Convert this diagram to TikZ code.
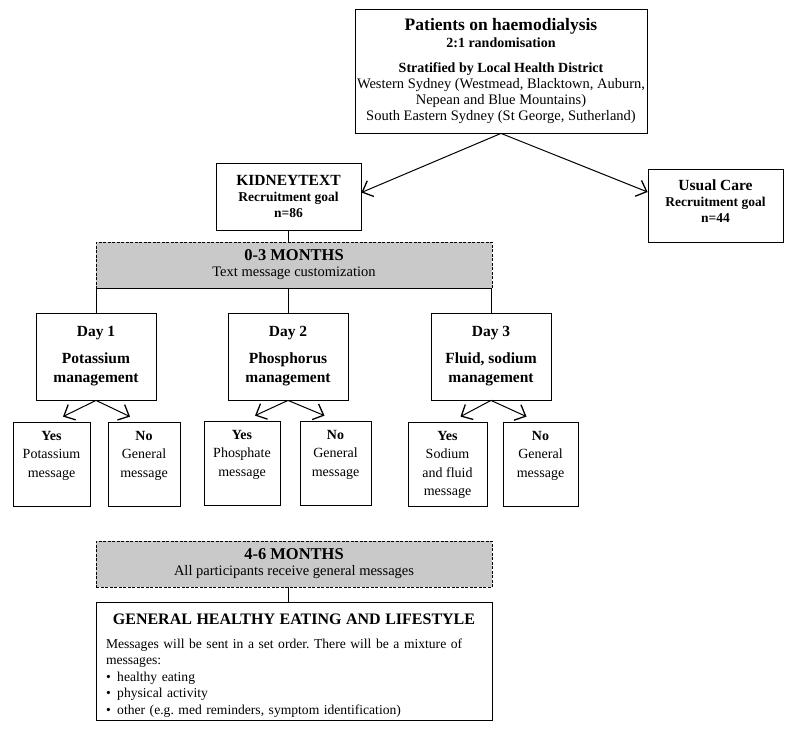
\documentclass[tikz,border=0pt]{standalone}
\usepackage{fontspec}
\setmainfont{Liberation Serif}
\usetikzlibrary{arrows.meta}

\newcommand{\fsz}[2]{\fontsize{#1}{#2}\selectfont}
\newcommand{\ans}[2]{\parbox[t][78pt][t]{#1}{\centering\rule{0pt}{15pt}#2}}

\begin{document}
\frenchspacing
\begin{tikzpicture}[x=1pt, y=-1pt,
		box/.style={draw, line width=0.8pt, align=center, inner sep=2pt, font=\fsz{13.5}{16}},
		answer/.style={draw, line width=0.8pt, inner sep=3pt, font=\fsz{14}{18.5}},
		phase/.style={box, fill=black!21, dash pattern=on 3pt off 1.5pt},
		link/.style={line width=0.8pt},
		arr/.style={line width=1pt, -{Straight Barb[length=9pt, width=17pt, line width=1.3pt]}}
	]
	\useasboundingbox (0,0) rectangle (794,732);

	% randomisation
	\node [box, minimum width=292, minimum height=123.5, font=\fsz{14.5}{16}] (patients) at (501,71.25)
		{{\fsz{17.5}{18}\bfseries Patients on haemodialysis}\\[1pt]
		 {\fsz{14}{16}\bfseries 2:1 randomisation}\\[9pt]
		 {\fsz{14}{16}\bfseries Stratified by Local Health District}\\
		 Western Sydney (Westmead, Blacktown, Auburn,\\
		 Nepean and Blue Mountains)\\
		 South Eastern Sydney (St George, Sutherland)};

	\node [box, minimum width=145, minimum height=67, font=\fsz{13.5}{16}\bfseries] (kidney) at (288.5,196.5)
		{{\fsz{15.5}{18}KIDNEYTEXT}\\ Recruitment goal\\ n=86};
	\node [box, minimum width=135, minimum height=73, font=\fsz{13.5}{16}\bfseries] (usual) at (715.5,205.5)
		{{\fsz{15.5}{18}Usual Care}\\ Recruitment goal\\ n=44\\[-8pt]\mbox{}};

	\draw [arr] (patients.south) -- ([yshift=4pt]kidney.east);
	\draw [arr] (patients.south) -- ([yshift=13.5pt]usual.west);

	% first phase
	\node [phase, minimum width=396, minimum height=46] (phaseA) at (294,265)
		{{\fsz{16.5}{18}\bfseries 0-3 MONTHS}\\ {\fsz{14.5}{18}Text message customization}};
	\draw [link] (kidney.south) -- (kidney.south |- phaseA.north);

	\foreach \i/\x/\topic in {1/96/Potassium\\management, 2/288/Phosphorus\\management, 3/491/{Fluid, sodium}\\management}
		\node [box, minimum width=120, minimum height=87, font=\fsz{15.5}{19}\bfseries] (day\i) at (\x,356.5)
			{Day \i\\[8pt] \topic};

	\draw [link] (day1.north |- phaseA.south) -- (day3.north |- phaseA.south);
	\foreach \i in {1,2,3}
		\draw [link] (day\i.north) -- (day\i.north |- phaseA.south);

	% answers
	\node [answer] (yes1) at (51.5,464) {\ans{71pt}{\textbf{Yes}\\ Potassium\\ message}};
	\node [answer] (no1) at (144,464) {\ans{66pt}{\textbf{No}\\ General\\ message}};
	\node [answer] (yes2) at (242,463) {\ans{70pt}{\textbf{Yes}\\ Phosphate\\ message}};
	\node [answer] (no2) at (335.5,463) {\ans{65pt}{\textbf{No}\\ General\\ message}};
	\node [answer] (yes3) at (447.5,464) {\ans{73pt}{\textbf{Yes}\\ Sodium\\ and fluid\\ message}};
	\node [answer] (no3) at (540.5,464) {\ans{69pt}{\textbf{No}\\ General\\ message}};

	\draw [arr] (day1.south) -- ([xshift=11.5pt, yshift=5pt]yes1.north);
	\draw [arr] (day1.south) -- ([xshift=-14pt, yshift=5pt]no1.north);
	\draw [arr] (day2.south) -- ([xshift=13pt, yshift=5pt]yes2.north);
	\draw [arr] (day2.south) -- ([xshift=-11pt, yshift=5pt]no2.north);
	\draw [arr] (day3.south) -- ([xshift=13pt, yshift=5pt]yes3.north);
	\draw [arr] (day3.south) -- ([xshift=-14pt, yshift=5pt]no3.north);

	% second phase
	\node [phase, minimum width=396, minimum height=46] (phaseB) at (294,564)
		{{\fsz{16.5}{18}\bfseries 4-6 MONTHS}\\ {\fsz{14.5}{18}All participants receive general messages}};

	\node [box, minimum width=396, minimum height=118, text width=376, align=left, inner xsep=10pt, inner ysep=0pt,
		font=\fsz{13.6}{16.5}] (general) at (294,661)
		{{\centering\fsz{16}{18}\bfseries\rule{0pt}{20pt}GENERAL HEALTHY EATING AND LIFESTYLE\par}
		 \vspace{7pt}
		 Messages will be sent in a set order. There will be a mixture of messages:\\
		 \textbullet\hspace{6.5pt}healthy eating\\
		 \textbullet\hspace{6.5pt}physical activity\\
		 \textbullet\hspace{6.5pt}other (e.g. med reminders, symptom identification)};
	\draw [link] (day2.north |- phaseB.south) -- (day2.north |- general.north);
\end{tikzpicture}
\end{document}
